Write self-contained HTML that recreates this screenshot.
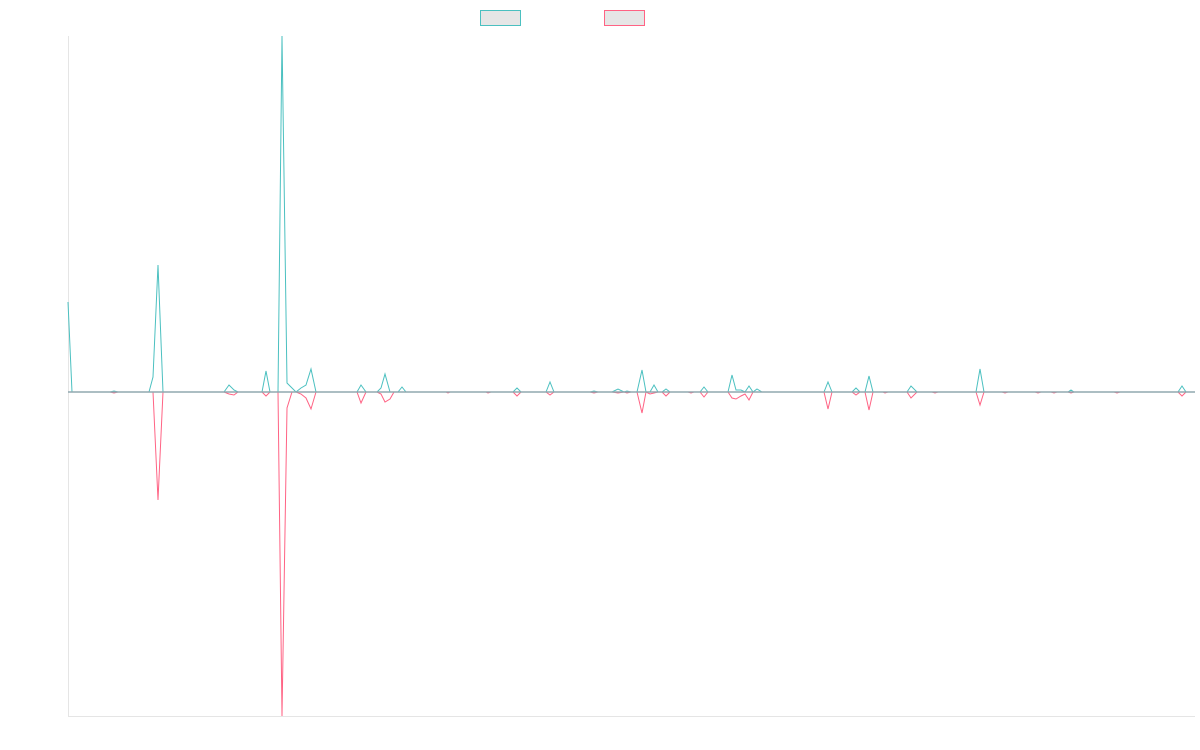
<!DOCTYPE html>
<html><head><meta charset="utf-8"><style>html,body{margin:0;padding:0;background:#fff;width:1200px;height:750px;overflow:hidden}</style></head>
<body>
<svg width="1200" height="750" viewBox="0 0 1200 750" xmlns="http://www.w3.org/2000/svg">
<rect x="480.5" y="10.5" width="40" height="15" fill="#e6e6e6" stroke="rgb(75,192,192)" stroke-width="1"/>
<rect x="604.5" y="10.5" width="40" height="15" fill="#e6e6e6" stroke="rgb(255,99,132)" stroke-width="1"/>
<line x1="68.5" y1="36" x2="68.5" y2="716" stroke="#e5e5e5"/>
<line x1="68" y1="716.5" x2="1195" y2="716.5" stroke="#e5e5e5"/>
<polyline fill="none" stroke="rgb(255,99,132)" stroke-width="1" points="68,392 110,392 114,393 118,392 153,392 158,500 163,392 224,392 229,394 234,395 238,392 262,392 266,396 270,392 278,392 282,716 287,408 292,392 296,392 301,394 306,398 311,409 316,392 357,392 361,403 366,392 377,392 381,394 385,402 390,399 394,392 446,392 448,393 450,392 486,392 488,393 491,392 513,392 517,396 521,392 546,392 550,395 554,392 590,392 594,393 598,392 612,392 618,393 624,392 627,393 631,392 637,392 642,413 646,392 650,394 654,393 658,392 662,392 666,396 670,392 688,392 691,393 694,392 700,392 704,397 708,392 728,392 732,398 736,399 741,396 745,394 749,400 753,392 824,392 828,409 832,392 852,392 856,395 860,392 865,392 869,410 873,392 883,392 885,393 888,392 907,392 911,398 917,392 932,392 935,393 938,392 976,392 980,405 984,392 1002,392 1005,393 1008,392 1035,392 1038,393 1041,392 1051,392 1054,393 1057,392 1068,392 1071,393 1074,392 1114,392 1117,393 1120,392 1178,392 1182,396 1186,392 1195,392"/>
<polyline fill="none" stroke="rgb(75,192,192)" stroke-width="1" points="68,302 72,392 110,392 114,391 118,392 149,392 153,377 158,265 163,392 224,392 229,385 234,390 238,392 262,392 266,371 270,392 278,392 282,36 287,383 292,388 296,392 301,388 306,385 311,369 316,392 357,392 361,385 366,392 377,392 381,388 385,374 390,392 398,392 402,387 406,392 513,392 517,388 521,392 546,392 550,382 554,392 590,392 594,391 598,392 612,392 618,389 624,392 627,391 631,392 637,392 642,370 646,392 650,392 654,385 658,392 662,392 666,389 670,392 700,392 704,387 708,392 728,392 732,375 736,390 741,390 745,392 749,386 753,392 757,389 762,392 824,392 828,382 832,392 852,392 856,388 860,392 865,392 869,376 873,392 907,392 911,386 917,392 976,392 980,369 984,392 1068,392 1071,390 1074,392 1178,392 1182,386 1186,392 1195,392"/>
<line x1="68" y1="392" x2="1195" y2="392" stroke="rgb(145,168,175)" stroke-width="1.5"/>
</svg>
</body></html>
